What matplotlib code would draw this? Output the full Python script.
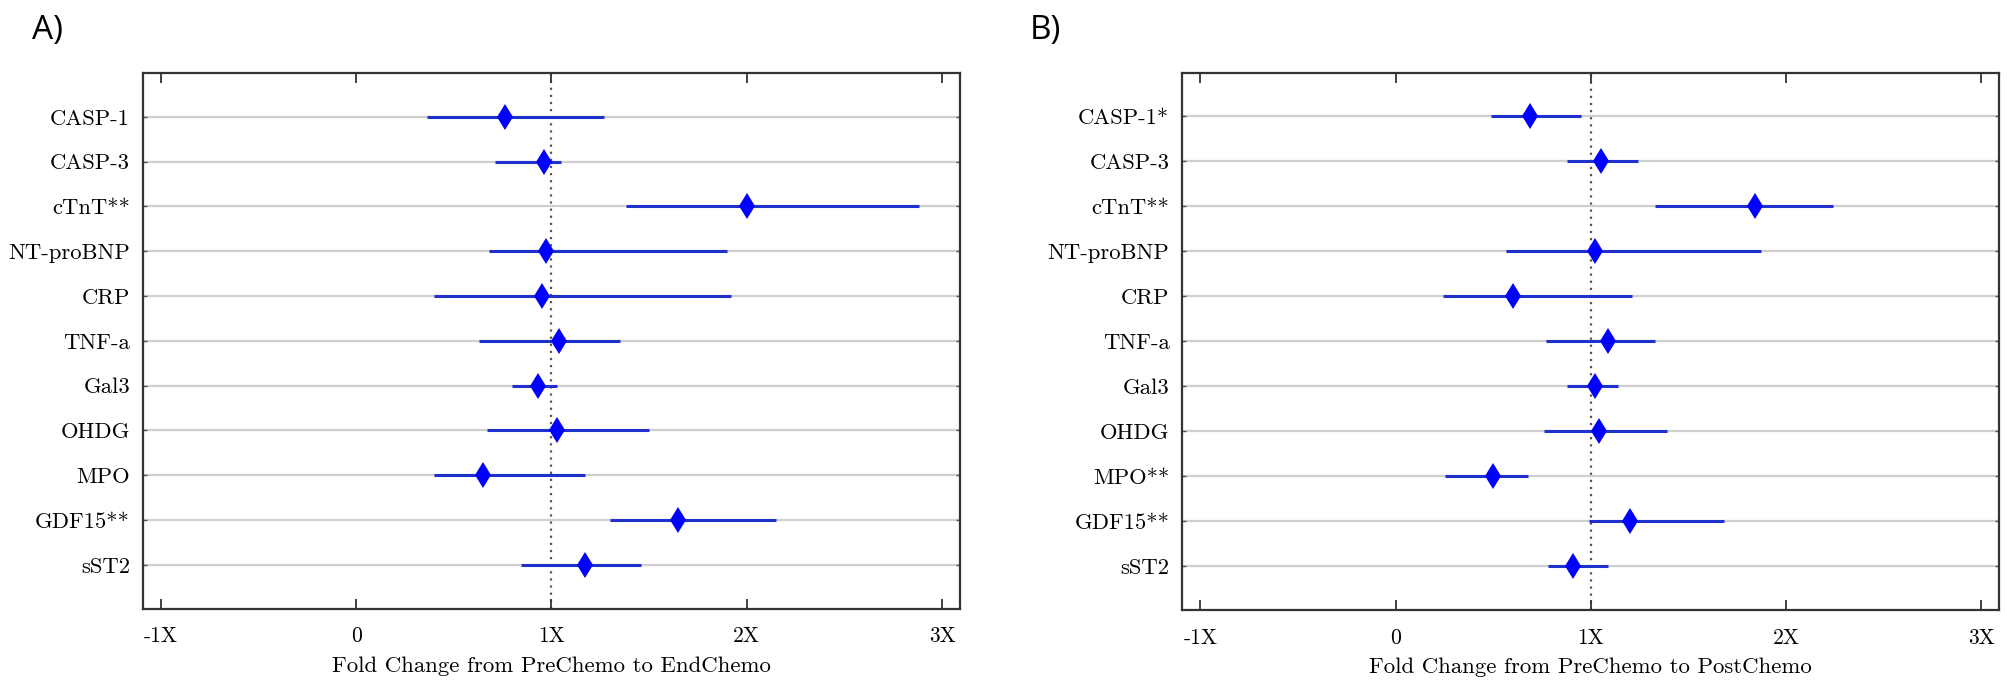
import numpy as np
import matplotlib.pyplot as plt

plt.rcParams['font.family'] = ['cmr10', 'DejaVu Serif']
plt.rcParams['axes.unicode_minus'] = False

#biomarker names for each panel (top to bottom)
labels_a = ['CASP-1', 'CASP-3', 'cTnT**', 'NT-proBNP', 'CRP', 'TNF-a', 'Gal3', 'OHDG', 'MPO', 'GDF15**', 'sST2']
labels_b = ['CASP-1*', 'CASP-3', 'cTnT**', 'NT-proBNP', 'CRP', 'TNF-a', 'Gal3', 'OHDG', 'MPO**', 'GDF15**', 'sST2']

#panel A: PreChemo -> EndChemo fold change (estimate, lower, upper)
fold_a = [0.76, 0.96, 2.00, 0.97, 0.95, 1.04, 0.93, 1.03, 0.65, 1.65, 1.17]
low_a = [0.36, 0.71, 1.38, 0.68, 0.40, 0.63, 0.80, 0.67, 0.40, 1.30, 0.845]
high_a = [1.27, 1.05, 2.88, 1.90, 1.92, 1.35, 1.03, 1.50, 1.17, 2.15, 1.46]

#panel B: PreChemo -> PostChemo fold change
fold_b = [0.69, 1.05, 1.84, 1.02, 0.60, 1.09, 1.02, 1.04, 0.50, 1.20, 0.91]
low_b = [0.49, 0.88, 1.33, 0.565, 0.245, 0.77, 0.88, 0.76, 0.255, 0.99, 0.78]
high_b = [0.95, 1.24, 2.24, 1.87, 1.21, 1.33, 1.14, 1.39, 0.68, 1.68, 1.09]

xticks = [-1, 0, 1, 2, 3]
xticklabels = ['-1X', '0', '1X', '2X', '3X']

fig = plt.figure(figsize=(20.08, 6.87), dpi=100)
ax_a = fig.add_axes([0.0710, 0.1140, 0.4071, 0.7793])
ax_b = fig.add_axes([0.5886, 0.1121, 0.4071, 0.7821])

def forest(ax, labels, fold, low, high, xlabel):
    y = np.arange(1, len(labels) + 1)
    #grey row lines
    for yy in y:
        ax.axhline(yy, color='#cfcfcf', lw=1.6, zorder=0)
    #no change reference line
    ax.axvline(1, color='#555555', ls=(0, (1, 2.2)), lw=1.6, zorder=1)
    ax.hlines(y, low, high, color='#2030cc', lw=2.2, zorder=2)
    ax.plot(fold, y, 'd', color='#0000ff', markersize=13, markeredgewidth=0, zorder=3)
    ax.set_xlim(-1.094, 3.092)
    ax.set_ylim(len(labels) + 0.98, 0.03)
    ax.set_yticks(y)
    ax.set_yticklabels(labels, fontsize=16.3)
    ax.set_xticks(xticks)
    ax.set_xticklabels(xticklabels, fontsize=15.5)
    ax.set_xlabel(xlabel, fontsize=16.4, labelpad=7)
    ax.tick_params(axis='x', direction='in', length=7, width=1.3, top=True, pad=13, color='#333333')
    ax.tick_params(axis='y', direction='in', length=3, width=1.0, right=True, pad=9, color='#555555')
    for s in ax.spines.values():
        s.set_color('#333333')
        s.set_linewidth(1.6)

forest(ax_a, labels_a, fold_a, low_a, high_a, 'Fold Change from PreChemo to EndChemo')
forest(ax_b, labels_b, fold_b, low_b, high_b, 'Fold Change from PreChemo to PostChemo')

#panel letters
fig.text(0.016, 0.955, 'A)', fontsize=24, family='Open Sans', va='center')
fig.text(0.513, 0.955, 'B)', fontsize=24, family='Open Sans', va='center')

plt.savefig('out.png', dpi=100)
